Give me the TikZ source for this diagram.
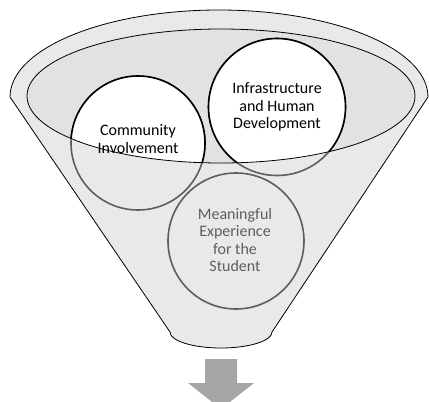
\documentclass[tikz,border=0pt]{standalone}
\usepackage{fontspec}
\setmainfont{Carlito}
\definecolor{bodygray}{HTML}{E9E9E9}
\definecolor{mouthgray}{HTML}{E2E2E2}
\definecolor{ringgray}{HTML}{5E5E5E}
\definecolor{arrowgray}{HTML}{A6A6A6}
\begin{document}
\begin{tikzpicture}[x=1pt,y=-1pt,
	ring/.style={circle,draw=ringgray,line width=1.6pt,minimum size=134pt,inner sep=0pt},
	ringtext/.style={align=center,font=\fontsize{16}{17.5}\selectfont}]
			\clip (0,0) rectangle (429,402);
			% funnel body with its flat bottom
			\draw[fill=bodygray,line width=0.8pt] (10,97) arc[start angle=180,end angle=360,x radius=209,y radius=87]
				-- (272,332) arc[start angle=0,end angle=180,x radius=51,y radius=16] -- cycle;
			\fill[mouthgray] (221,96) ellipse[x radius=194,y radius=67];
			% the three rings
			\node[ring] (community) at (138,143) {};
			\node[ring,minimum size=137pt] (infra) at (277,107) {};
			\node[ring,minimum size=136pt] (meaning) at (236,241) {};
			\begin{scope}
				\clip (221,96) ellipse[x radius=194,y radius=67];
				\draw[fill=white,line width=1.6pt] (community.center) circle[radius=67];
				\draw[fill=white,line width=1.6pt] (infra.center) circle[radius=68.5];
			\end{scope}
			\node[ringtext] (communitytext) at (138,139) {Community\\Involvement};
			\node[ringtext] (infratext) at (277,107) {Infrastructure\\and Human\\Development};
			\node[ringtext,text=ringgray] (meaningtext) at (235,240) {Meaningful\\Experience\\for the\\Student};
			\draw[line width=0.8pt] (221,96) ellipse[x radius=194,y radius=67];
			% down arrow
			\fill[arrowgray] (205,359) -- (237,359) -- (237,383) -- (254,383) -- (221,409)
				-- (188,383) -- (205,383) -- cycle;
			\end{tikzpicture}
\end{document}
